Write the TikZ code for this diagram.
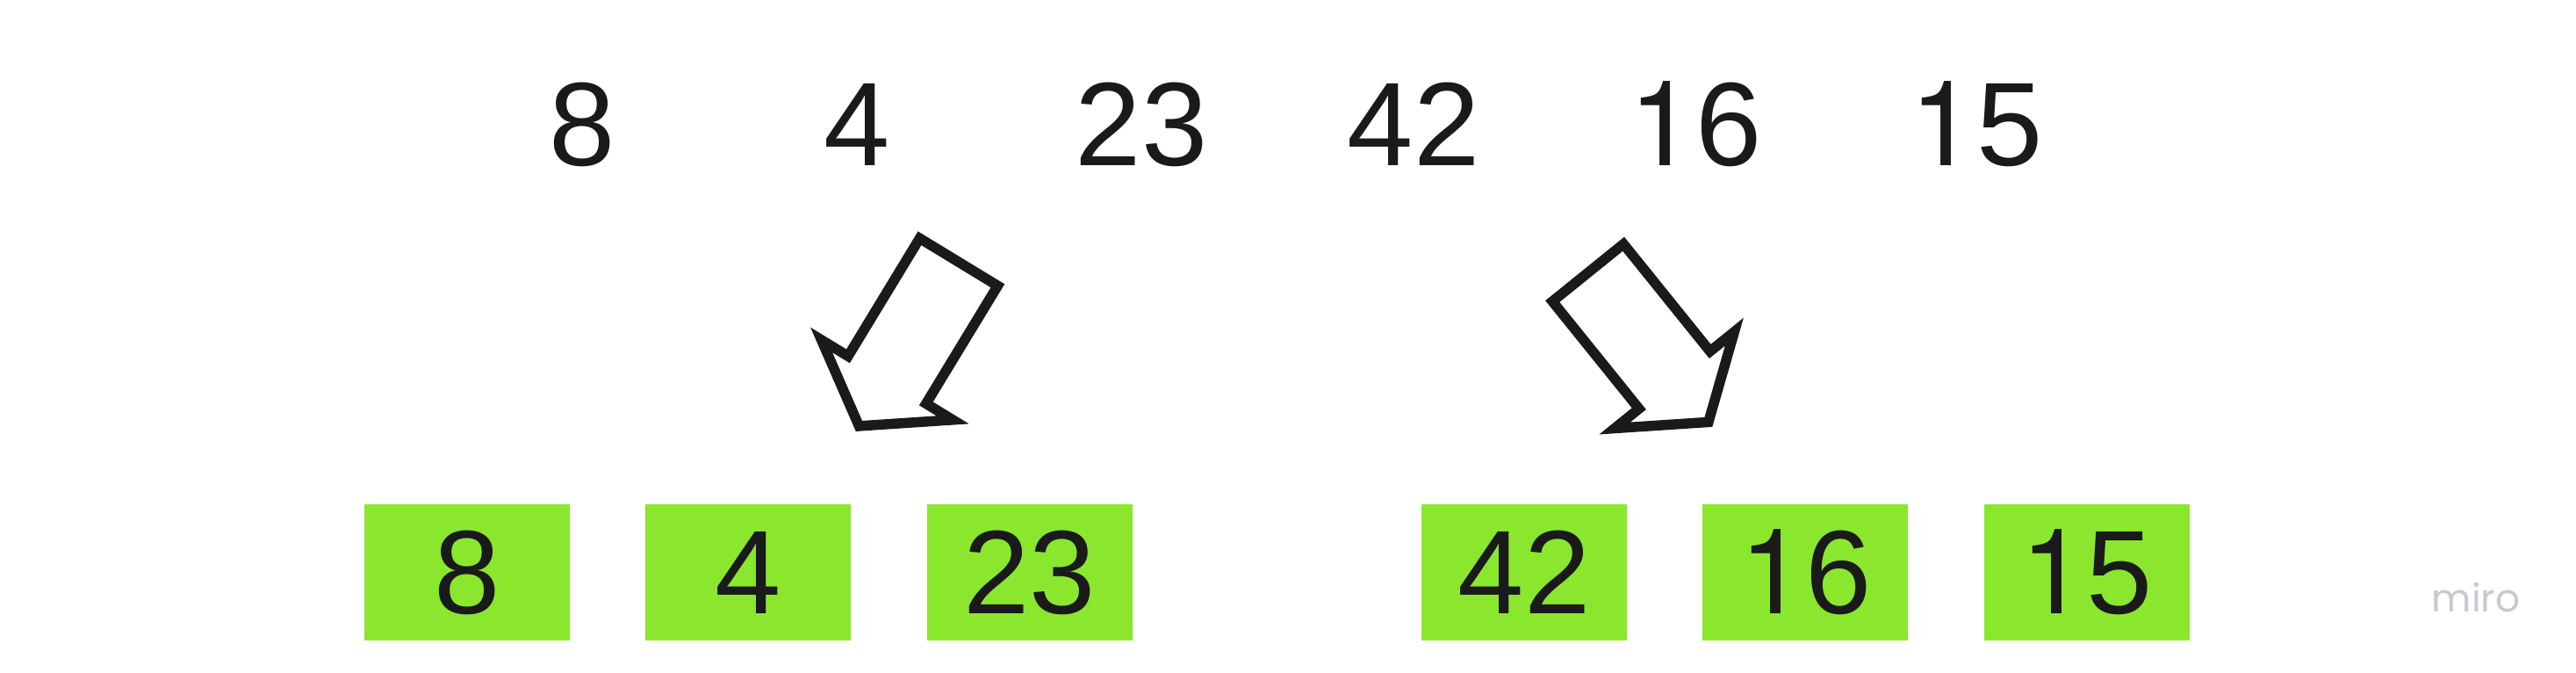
\documentclass[tikz,border=0pt]{standalone}
\usepackage{fontspec}
\setmainfont{Liberation Sans}
\newfontfamily\onefont{TeX Gyre Heros}
\newfontfamily\logofont{Poppins}
\newcommand{\unit}{{\onefont 1}}
\usepackage{tikz}
\usetikzlibrary{positioning}
\definecolor{ink}{HTML}{1A1A1A}
\definecolor{limegreen}{HTML}{8AE72E}
\definecolor{logogray}{HTML}{C8C8D2}
\tikzset{
  num/.style={font=\fontsize{38.5}{40}\selectfont,text=ink,inner sep=0pt,anchor=base},
  cell/.style={rectangle,fill=limegreen,minimum width=2.34cm,minimum height=1.55cm,
    inner sep=0pt,font=\fontsize{38.5}{40}\selectfont,text=ink},
  splitarrow/.style={draw=ink,line width=0.115cm,fill=white,line join=miter},
  logo/.style={font=\logofont\fontsize{12.5}{14}\selectfont,text=logogray,inner sep=0pt,anchor=base}
}

\begin{document}
\begin{tikzpicture}[node distance=0.85cm]
\useasboundingbox (0,0) rectangle (29.34,7.66);
% input row
\foreach \v/\x [count=\i] in {8/6.63,4/9.76,23/13.00,42/16.10,\unit6/19.31,\unit5/22.51}
  \node[num] (n\i) at (\x,5.77) {\v};
% split arrows
\draw[splitarrow,shift={(10.945,4.72)},rotate=238.7]
  (0.05,0.52) -- (1.62,0.52) -- (1.62,0.875) -- (2.235,0)
  -- (1.62,-0.875) -- (1.62,-0.52) -- (0.05,-0.52) -- cycle;
\draw[splitarrow,shift={(18.055,4.595)},rotate=-51.1]
  (0.05,0.52) -- (1.62,0.52) -- (1.62,0.875) -- (2.235,0)
  -- (1.62,-0.875) -- (1.62,-0.52) -- (0.05,-0.52) -- cycle;
% halves
\node[cell] (c8) at (5.32,1.145) {8};
\node[cell,right=of c8] (c4) {4};
\node[cell,right=of c4] (c23) {23};
\node[cell] (c42) at (17.36,1.145) {42};
\node[cell,right=of c42] (c16) {\unit6};
\node[cell,right=of c16] (c15) {\unit5};
\node[logo] (miro) at (28.20,0.69) {miro};
\end{tikzpicture}
\end{document}
